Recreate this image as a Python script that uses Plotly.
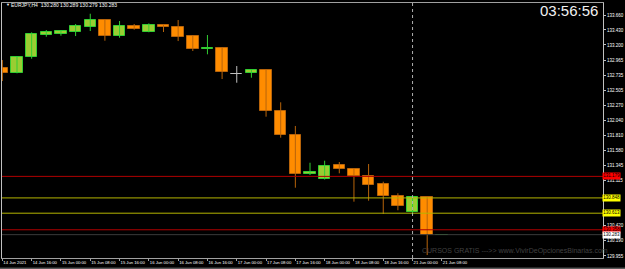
import plotly.graph_objects as go

# ---------------- data ----------------
tick_idx = [0, 2, 4, 6, 8, 10, 12, 14, 16, 18, 20, 22, 24, 26, 28, 30]
tick_text = ["14 Jun 2021", "14 Jun 16:00", "15 Jun 00:00", "15 Jun 08:00", "15 Jun 16:00",
             "16 Jun 00:00", "16 Jun 08:00", "16 Jun 16:00", "17 Jun 00:00", "17 Jun 08:00",
             "17 Jun 16:00", "18 Jun 00:00", "18 Jun 08:00", "18 Jun 16:00", "21 Jun 00:00",
             "21 Jun 08:00"]

opens = [132.850, 132.773, 133.010, 133.357, 133.368, 133.403, 133.480, 133.583, 133.342, 133.491,
         133.399, 133.506, 133.480, 133.337, 133.133, 133.153, 132.753, 132.764, 132.814, 132.189,
         131.820, 131.216, 131.134, 131.349, 131.297, 131.190, 131.067, 130.877, 130.627, 130.862,
         130.280]
highs = [132.968, 133.019, 133.394, 133.429, 133.419, 133.522, 133.680, 133.590, 133.568, 133.522,
         133.532, 133.510, 133.583, 133.353, 133.353, 133.160, 132.876, 132.830, 132.830, 132.318,
         131.954, 131.389, 131.420, 131.400, 131.305, 131.369, 131.097, 130.919, 130.877, 130.870,
         130.289]
lows = [132.645, 132.764, 132.988, 133.326, 133.342, 133.337, 133.414, 133.265, 133.311, 133.434,
        133.395, 133.399, 133.260, 133.107, 133.056, 132.676, 132.619, 132.696, 132.097, 131.774,
        131.005, 131.200, 131.130, 131.226, 130.790, 130.805, 130.601, 130.658, 130.585, 129.970,
        130.279]
closes = [132.773, 133.010, 133.363, 133.403, 133.414, 133.486, 133.583, 133.342, 133.491, 133.445,
          133.506, 133.476, 133.326, 133.133, 133.153, 132.788, 132.753, 132.814, 132.189, 131.820,
          131.216, 131.246, 131.339, 131.293, 131.185, 131.047, 130.877, 130.724, 130.862, 130.275,
          130.283]

price_ticks = [133.660, 133.430, 133.200, 132.965, 132.735, 132.505, 132.270, 132.040, 131.810,
               131.580, 131.345, 131.115, 130.420, 130.190, 129.955]

red_levels = [131.179, 130.358]
yellow_levels = [130.848, 130.613]
bid_level = 130.283
separator_idx = 28

title_text = "EURJPY,H4  130.280 130.289 130.279 130.283"
clock_text = "03:56:56"
watermark = "CURSOS GRATIS --->> www.VivirDeOpcionesBinarias.com"

# ---------------- style ----------------
BULL_FILL, BULL_LINE = "#9ACD32", "#32CD32"
BEAR_FILL, BEAR_LINE = "#FF8C00", "#B8640A"
DOJI = "#C0C0C0"
FONT = "Liberation Sans"

n = len(opens)
idx = list(range(n))

fig = go.Figure()

# wicks
groups = {"bull": ([], [], BULL_LINE), "bear": ([], [], BEAR_LINE), "doji": ([], [], DOJI)}
kinds = []
for i in idx:
    if closes[i] > opens[i]:
        k = "bull"
    elif closes[i] < opens[i]:
        k = "bear"
    else:
        k = "doji"
    kinds.append(k)
    gx, gy, _ = groups[k]
    gx += [i, i, None]
    gy += [lows[i], highs[i], None]

for k, (gx, gy, col) in groups.items():
    fig.add_trace(go.Scatter(x=gx, y=gy, mode="lines", line=dict(color=col, width=1),
                             hoverinfo="skip", showlegend=False))

# bodies
fills = [BULL_FILL if k == "bull" else BEAR_FILL if k == "bear" else DOJI for k in kinds]
lines = [BULL_LINE if k == "bull" else BEAR_LINE if k == "bear" else DOJI for k in kinds]
fig.add_trace(go.Bar(
    x=idx,
    base=[min(o, c) for o, c in zip(opens, closes)],
    y=[max(abs(c - o), 0.0005) for o, c in zip(opens, closes)],
    width=0.78,
    marker=dict(color=fills, line=dict(color=lines, width=1)),
    hoverinfo="skip", showlegend=False,
))

shapes = []
for lv in red_levels:
    shapes.append(dict(type="line", xref="paper", x0=0, x1=1, yref="y", y0=lv, y1=lv,
                       line=dict(color="#B00000", width=1)))
for lv in yellow_levels:
    shapes.append(dict(type="line", xref="paper", x0=0, x1=1, yref="y", y0=lv, y1=lv,
                       line=dict(color="#B4B400", width=1)))
shapes.append(dict(type="line", xref="paper", x0=0, x1=1, yref="y", y0=bid_level, y1=bid_level,
                   line=dict(color="#3A3A3A", width=1)))
shapes.append(dict(type="line", xref="x", x0=separator_idx, x1=separator_idx, yref="paper", y0=0, y1=1,
                   line=dict(color="#B0B0B0", width=1, dash="dot")))
# bottom scrollbar line
shapes.append(dict(type="line", xref="paper", x0=-0.01, x1=1.04, yref="paper", y0=-0.04, y1=-0.04,
                   line=dict(color="#808080", width=1)))

annotations = []
def price_label(lv, bg, fg="#000000"):
    annotations.append(dict(xref="paper", x=1, xanchor="left", xshift=-1, yref="y", y=lv,
                            yanchor="middle", text=f"{lv:.3f}", showarrow=False,
                            font=dict(family=FONT, size=4.5, color=fg), bgcolor=bg, borderpad=0.3))
for lv in red_levels:
    price_label(lv, "#FF0000")
for lv in yellow_levels:
    price_label(lv, "#FFFF00")
price_label(bid_level, "#FFFFFF")

annotations.append(dict(xref="paper", x=0.004, xanchor="left", yref="paper", y=0.993, yanchor="middle",
                        text="▼", showarrow=False, font=dict(family=FONT, size=4, color="#FFFFFF")))
annotations.append(dict(xref="paper", x=0.012, xanchor="left", yref="paper", y=0.993, yanchor="middle",
                        text=title_text, showarrow=False, font=dict(family=FONT, size=5, color="#FFFFFF")))
annotations.append(dict(xref="paper", x=0.995, xanchor="right", yref="paper", y=0.972, yanchor="middle",
                        text=clock_text, showarrow=False, font=dict(family=FONT, size=15, color="#F0F0F0")))
annotations.append(dict(xref="paper", x=0.6955, xanchor="left", yref="paper", y=0.029, yanchor="middle",
                        text=watermark, showarrow=False, font=dict(family=FONT, size=7, color="#404040")))

fig.update_layout(
    width=625, height=269,
    margin=dict(l=2, r=22, t=3, b=11, autoexpand=False),
    paper_bgcolor="#000000", plot_bgcolor="#000000",
    showlegend=False, hovermode=False,
    bargap=0,
    shapes=shapes, annotations=annotations,
    font=dict(family=FONT, color="#FFFFFF", size=4.5),
    xaxis=dict(range=[-0.024, 41.0], tickmode="array", tickvals=tick_idx, ticktext=tick_text,
               showgrid=False, zeroline=False, showline=True, linecolor="#A0A0A0", linewidth=1,
               mirror=True, ticks="outside", ticklen=2, tickcolor="#A0A0A0",
               ticklabelposition="outside right", tickangle=0, automargin=False,
               tickfont=dict(family=FONT, size=4.2, color="#FFFFFF"), fixedrange=True),
    yaxis=dict(range=[129.924, 133.845], side="right", tickmode="array", tickvals=price_ticks,
               ticktext=[f"{v:.3f}" for v in price_ticks], automargin=False,
               showgrid=False, zeroline=False, showline=True, linecolor="#C0C0C0", linewidth=1,
               mirror=True, ticks="outside", ticklen=2, tickcolor="#C0C0C0",
               tickfont=dict(family=FONT, size=4.5, color="#FFFFFF"), fixedrange=True),
)

fig.write_html("out.html")
